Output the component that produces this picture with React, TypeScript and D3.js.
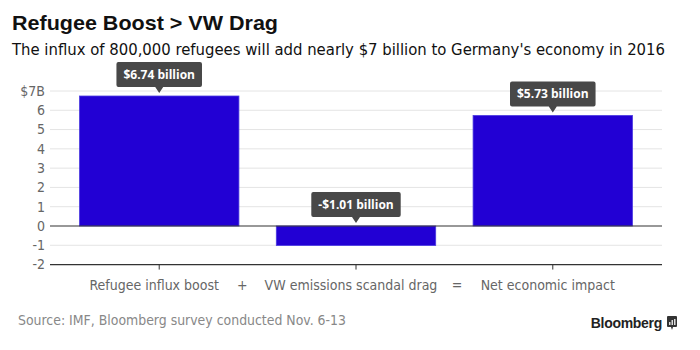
import React, { useEffect, useRef } from 'react';
import * as d3 from 'd3';

const categories = ['Refugee influx boost', 'VW emissions scandal drag', 'Net economic impact'];
const values = [6.74, -1.01, 5.73];
const valueLabels = ['$6.74 billion', '-$1.01 billion', '$5.73 billion'];
const yTicks = [-2, -1, 0, 1, 2, 3, 4, 5, 6, 7];
const operators = ['+', '='];

const W = 700;
const H = 350;
const narrow = "'DejaVu Sans Condensed', 'Liberation Sans Narrow', sans-serif";

export default function App() {
  const ref = useRef<SVGSVGElement>(null);

  useEffect(() => {
    if (!ref.current) return;
    const svg = d3.select(ref.current);
    svg.selectAll('*').remove();

    const left = 50;
    const right = 662;
    const top = 91;
    const zeroY = 226;

    const x = d3.scaleBand<string>()
      .domain(categories)
      .range([left, right])
      .paddingInner(0.19)
      .paddingOuter(0.15);

    const y = d3.scaleLinear()
      .domain([0, 7])
      .range([zeroY, top]);

    // title + subtitle
    svg.append('text')
      .attr('x', 12).attr('y', 30)
      .attr('font-family', "'Liberation Sans', Arial, sans-serif")
      .attr('font-weight', 'bold')
      .attr('font-size', 21)
      .attr('fill', '#111')
      .attr('textLength', 266)
      .attr('lengthAdjust', 'spacingAndGlyphs')
      .text('Refugee Boost > VW Drag');

    svg.append('text')
      .attr('x', 12).attr('y', 55)
      .attr('font-family', narrow)
      .attr('font-size', 16)
      .attr('fill', '#111')
      .attr('textLength', 653)
      .attr('lengthAdjust', 'spacingAndGlyphs')
      .text("The influx of 800,000 refugees will add nearly $7 billion to Germany's economy in 2016");

    // grid lines
    svg.append('g')
      .selectAll('line')
      .data(yTicks.filter(t => t !== 0 && t !== -2))
      .join('line')
      .attr('x1', left).attr('x2', right)
      .attr('y1', d => y(d)).attr('y2', d => y(d))
      .attr('stroke', '#e4e4e4')
      .attr('stroke-width', 1);

    // y tick labels
    svg.append('g')
      .selectAll('text')
      .data(yTicks)
      .join('text')
      .attr('x', 45)
      .attr('y', d => y(d))
      .attr('dy', '0.35em')
      .attr('text-anchor', 'end')
      .attr('font-family', narrow)
      .attr('font-size', 14)
      .attr('fill', '#666')
      .text(d => (d === 7 ? '$7B' : String(d)));

    // bars
    svg.append('g')
      .selectAll('rect')
      .data(values)
      .join('rect')
      .attr('x', (_, i) => x(categories[i])!)
      .attr('width', x.bandwidth())
      .attr('y', d => y(Math.max(0, d)))
      .attr('height', d => Math.abs(y(d) - y(0)))
      .attr('fill', '#2200d4')
      .attr('stroke', '#4a3ae0')
      .attr('stroke-width', 0.8);

    // zero line and bottom axis line
    svg.append('line')
      .attr('x1', left).attr('x2', right)
      .attr('y1', y(0)).attr('y2', y(0))
      .attr('stroke', '#333').attr('stroke-width', 1.2);

    svg.append('line')
      .attr('x1', left).attr('x2', right)
      .attr('y1', y(-2)).attr('y2', y(-2))
      .attr('stroke', '#333').attr('stroke-width', 1.2);

    // x ticks + labels
    const xg = svg.append('g');
    categories.forEach(c => {
      const cx = x(c)! + x.bandwidth() / 2;
      xg.append('line')
        .attr('x1', cx).attr('x2', cx)
        .attr('y1', y(-2)).attr('y2', y(-2) + 5)
        .attr('stroke', '#333');
      xg.append('text')
        .attr('x', cx - 5)
        .attr('y', 290)
        .attr('text-anchor', 'middle')
        .attr('font-family', narrow)
        .attr('font-size', 14)
        .attr('fill', '#666')
        .text(c);
    });
    // + and = between the categories
    [x(categories[1])! - 34, x(categories[2])! - 16].forEach((ox, i) => {
      xg.append('text')
        .attr('x', ox)
        .attr('y', 290)
        .attr('text-anchor', 'middle')
        .attr('font-family', narrow)
        .attr('font-size', 14)
        .attr('fill', '#666')
        .text(operators[i]);
    });

    // value callouts
    const tip = svg.append('g');
    values.forEach((v, i) => {
      const cx = x(categories[i])! + x.bandwidth() / 2;
      const tipY = y(Math.max(0, v)) - 3;
      const boxBottom = tipY - 6;
      const boxH = 25;
      const label = tip.append('g');
      const t = label.append('text')
        .attr('x', cx)
        .attr('y', boxBottom - boxH / 2)
        .attr('dy', '0.35em')
        .attr('text-anchor', 'middle')
        .attr('font-family', "'Open Sans', 'Liberation Sans', sans-serif")
        .attr('font-weight', 'bold')
        .attr('font-size', 12)
        .attr('fill', '#fff')
        .text(valueLabels[i]);
      const bw = (t.node() as SVGTextElement).getComputedTextLength() + 14;
      label.insert('path', 'text')
        .attr('d', `M${cx - bw / 2 + 2},${boxBottom - boxH} h${bw - 4} q2,0 2,2 v${boxH - 4} q0,2 -2,2 H${cx + 4} L${cx},${tipY} L${cx - 4},${boxBottom} H${cx - bw / 2 + 2} q-2,0 -2,-2 v${-(boxH - 4)} q0,-2 2,-2 Z`)
        .attr('fill', '#484848');
    });

    // footer
    svg.append('text')
      .attr('x', 18).attr('y', 325)
      .attr('font-family', narrow)
      .attr('font-size', 14)
      .attr('fill', '#888')
      .attr('textLength', 328)
      .attr('lengthAdjust', 'spacingAndGlyphs')
      .text('Source: IMF, Bloomberg survey conducted Nov. 6-13');

    svg.append('text')
      .attr('x', 662).attr('y', 328)
      .attr('text-anchor', 'end')
      .attr('font-family', "'Liberation Sans', Arial, sans-serif")
      .attr('font-weight', 'bold')
      .attr('font-size', 14)
      .attr('fill', '#222')
      .attr('letter-spacing', -0.3)
      .text('Bloomberg');

    const logo = svg.append('g').attr('transform', 'translate(667,316)');
    logo.append('rect').attr('width', 10).attr('height', 11).attr('rx', 1).attr('fill', '#333');
    logo.append('path').attr('d', 'M4,11 L5,14 L6,11 Z').attr('fill', '#333');
    [[2, 6, 1.5], [4.5, 4, 1.5], [7, 3, 1.5]].forEach(([bx, by, bwid]) => {
      logo.append('rect').attr('x', bx).attr('y', by).attr('width', bwid).attr('height', 9 - by).attr('fill', '#ddd');
    });
  }, []);

  return (
    <svg
      ref={ref}
      width={W}
      height={H}
      style={{ position: 'absolute', left: 0, top: 0, background: '#fff' }}
    />
  );
}
